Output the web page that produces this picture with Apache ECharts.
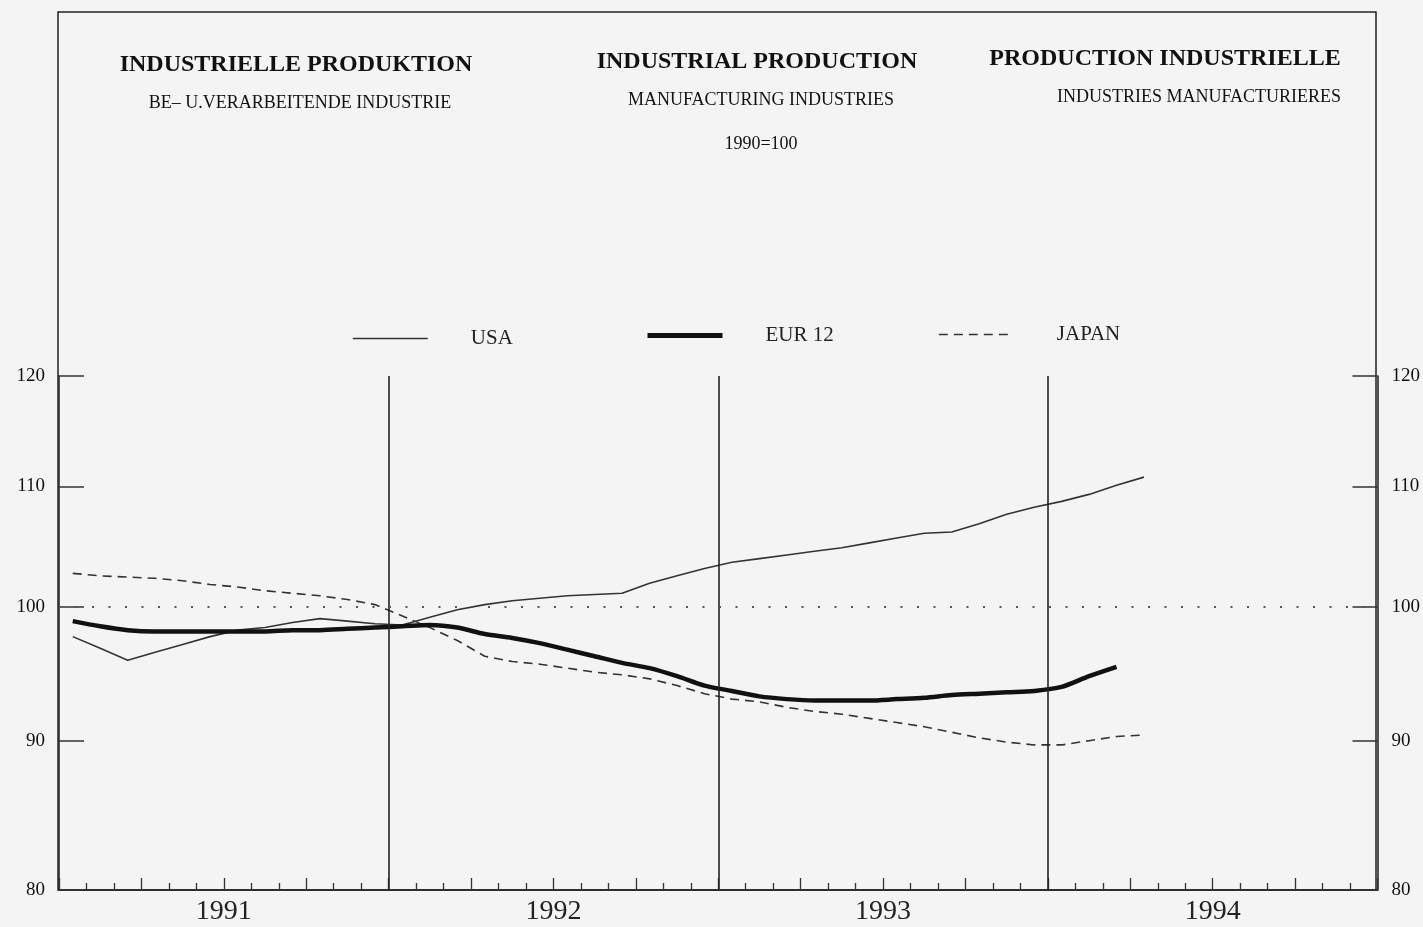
<!DOCTYPE html>
<html><head><meta charset="utf-8">
<script src="https://cdn.jsdelivr.net/npm/echarts@6/dist/echarts.min.js"></script>
<style>html,body{margin:0;padding:0;background:#f4f4f4}#c{width:1423px;height:927px}</style>
</head><body><div id="c"></div>
<script>
// ---- data (monthly, Jan 1991 onward; index 1990 = 100) ----
const YEARS = ['1991', '1992', '1993', '1994'];
const Y_TICKS = [80, 90, 100, 110, 120];
const YEAR_BOUNDS = [12, 24, 36];
const YEAR_CENTERS = [6, 18, 30, 42];
const USA = [97.7, 96.8, 95.9, 96.5, 97.1, 97.7, 98.2, 98.4, 98.8, 99.1, 98.9, 98.7,
             98.6, 99.2, 99.8, 100.2, 100.5, 100.7, 100.9, 101.0, 101.1, 101.9, 102.5, 103.1,
             103.6, 103.9, 104.2, 104.5, 104.8, 105.2, 105.6, 106.0, 106.1, 106.8, 107.6, 108.2,
             108.7, 109.3, 110.1, 110.8];
const EUR12 = [98.9, 98.5, 98.2, 98.1, 98.1, 98.1, 98.1, 98.1, 98.2, 98.2, 98.3, 98.4,
               98.5, 98.6, 98.4, 97.9, 97.6, 97.2, 96.7, 96.2, 95.7, 95.3, 94.7, 94.0,
               93.6, 93.2, 93.0, 92.9, 92.9, 92.9, 93.0, 93.1, 93.3, 93.4, 93.5, 93.6,
               93.9, 94.7, 95.4];
const JAPAN = [102.7, 102.5, 102.4, 102.3, 102.1, 101.8, 101.6, 101.3, 101.1, 100.9, 100.6, 100.2,
               99.3, 98.4, 97.4, 96.2, 95.8, 95.6, 95.3, 95.0, 94.8, 94.5, 94.0, 93.4,
               93.0, 92.8, 92.4, 92.1, 91.9, 91.6, 91.3, 91.0, 90.6, 90.2, 89.9, 89.7,
               89.7, 90.0, 90.3, 90.4];
const NAMES = ['USA', 'EUR 12', 'JAPAN'];

const toPts = arr => arr.map((v, i) => [i + 0.5, v]);
const SERIF = 'Liberation Serif';

const chart = echarts.init(document.getElementById('c'), null, {renderer: 'canvas'});

const yAxisBase = {
  type: 'log', logBase: 10, min: 80, max: 120,
  axisLine: {show: true, lineStyle: {color: '#222', width: 1.5}},
  axisTick: {show: true, inside: true, length: 25, customValues: Y_TICKS, lineStyle: {color: '#333', width: 1.5}},
  axisLabel: {customValues: Y_TICKS, margin: 14, fontFamily: SERIF, fontSize: 19, color: '#111'},
  splitLine: {show: false}, minorTick: {show: false}, minorSplitLine: {show: false}
};

const LEGEND_LEFT = [347, 640, 933];
const LEGEND_TOP = [323, 320, 319];
const LEGEND_LINE = [
  {color: '#333', width: 1.6, type: 'solid'},
  {color: '#111', width: 5, type: 'solid'},
  {color: '#333', width: 1.6, type: [9, 6]}
];
const legends = NAMES.map((n, k) => ({
  left: LEGEND_LEFT[k], top: LEGEND_TOP[k], itemWidth: 75, itemHeight: 14, itemGap: 10,
  data: [n],
  itemStyle: {opacity: 0, borderWidth: 0},
  lineStyle: LEGEND_LINE[k],
  textStyle: {fontFamily: SERIF, fontSize: 21, color: '#222', padding: [12, 0, 0, 38]}
}));

const option = {
  backgroundColor: '#f4f4f4',
  animation: false,
  grid: {left: 59, right: 45, top: 376, bottom: 37, containLabel: false},
  graphic: [
    {type: 'rect', shape: {x: 58, y: 12, width: 1318, height: 878}, style: {fill: 'none', stroke: '#222', lineWidth: 1.5}, silent: true, z: 0},
    {type: 'text', x: 296, y: 65, style: {text: 'INDUSTRIELLE PRODUKTION', font: 'bold 24px "Liberation Serif"', fill: '#111', textAlign: 'center', textVerticalAlign: 'middle'}},
    {type: 'text', x: 757, y: 62, style: {text: 'INDUSTRIAL PRODUCTION', font: 'bold 24px "Liberation Serif"', fill: '#111', textAlign: 'center', textVerticalAlign: 'middle'}},
    {type: 'text', x: 1165, y: 59, style: {text: 'PRODUCTION INDUSTRIELLE', font: 'bold 24px "Liberation Serif"', fill: '#111', textAlign: 'center', textVerticalAlign: 'middle'}},
    {type: 'text', x: 300, y: 103, style: {text: 'BE\u2013 U.VERARBEITENDE INDUSTRIE', font: '18px "Liberation Serif"', fill: '#111', textAlign: 'center', textVerticalAlign: 'middle'}},
    {type: 'text', x: 761, y: 100, style: {text: 'MANUFACTURING INDUSTRIES', font: '18px "Liberation Serif"', fill: '#111', textAlign: 'center', textVerticalAlign: 'middle'}},
    {type: 'text', x: 761, y: 144, style: {text: '1990=100', font: '18px "Liberation Serif"', fill: '#111', textAlign: 'center', textVerticalAlign: 'middle'}},
    {type: 'text', x: 1199, y: 97, style: {text: 'INDUSTRIES MANUFACTURIERES', font: '18px "Liberation Serif"', fill: '#111', textAlign: 'center', textVerticalAlign: 'middle'}}
  ],
  legend: legends,
  xAxis: {
    type: 'value', min: 0, max: 48, interval: 3,
    axisLine: {onZero: false, lineStyle: {color: '#222', width: 1.5}},
    axisTick: {inside: true, length: 12, lineStyle: {color: '#333', width: 1.3}},
    minorTick: {show: true, splitNumber: 3, length: 7, lineStyle: {color: '#333', width: 1.3}},
    axisLabel: {customValues: YEAR_CENTERS, formatter: v => YEARS[Math.floor(v / 12)], margin: 8, fontFamily: SERIF, fontSize: 28, color: '#222'},
    splitLine: {show: false}, minorSplitLine: {show: false}
  },
  yAxis: [Object.assign({position: 'left'}, yAxisBase), Object.assign({position: 'right'}, yAxisBase)],
  series: [
    {
      name: NAMES[0], type: 'line', data: toPts(USA), symbol: 'none', color: '#333',
      lineStyle: {color: '#333', width: 1.6}, z: 3,
      markLine: {
        silent: true, symbol: ['none', 'none'], label: {show: false},
        data: YEAR_BOUNDS.map(b => ({xAxis: b, lineStyle: {color: '#222', width: 1.6, type: 'solid'}}))
          .concat([{yAxis: 100, lineStyle: {color: '#555', width: 2, type: [2, 14.5]}}])
      }
    },
    {
      name: NAMES[1], type: 'line', data: toPts(EUR12), symbol: 'none', color: '#111', smooth: 0.3,
      lineStyle: {color: '#111', width: 4.5}, z: 4
    },
    {
      name: NAMES[2], type: 'line', data: toPts(JAPAN), symbol: 'none', color: '#333',
      lineStyle: {color: '#333', width: 1.6, type: [9, 6]}, z: 3
    }
  ]
};
chart.setOption(option);
</script>
</body></html>
